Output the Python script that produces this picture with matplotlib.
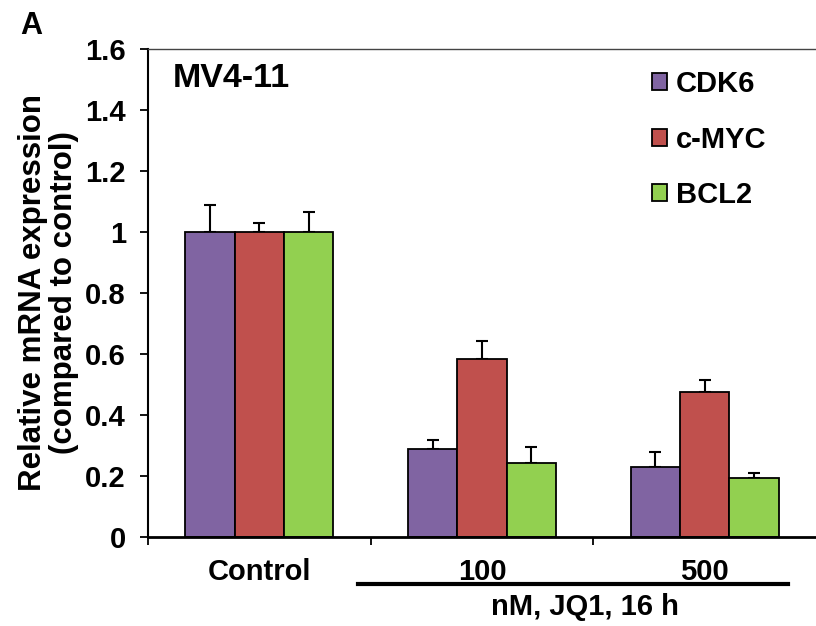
import matplotlib
matplotlib.use("Agg")
import matplotlib.pyplot as plt
import numpy as np
from matplotlib.lines import Line2D

plt.rcParams['font.family'] = ['Liberation Sans', 'DejaVu Sans']
plt.rcParams['font.weight'] = 'bold'

categories = ["Control", "100", "500"]
genes = ["CDK6", "c-MYC", "BCL2"]
cdk6 = [1.0, 0.29, 0.228]
cmyc = [1.0, 0.582, 0.474]
bcl2 = [1.0, 0.244, 0.195]
cdk6_err = [0.09, 0.027, 0.05]
cmyc_err = [0.03, 0.062, 0.04]
bcl2_err = [0.065, 0.05, 0.015]
colors = ["#8064A2", "#C0504D", "#92D050"]

fig = plt.figure(figsize=(8.16, 6.26), dpi=100)
ax = fig.add_axes([0.1814, 0.1422, 0.8186, 0.7796])

x = np.arange(len(categories))
w = 0.222
series = [cdk6, cmyc, bcl2]
errs = [cdk6_err, cmyc_err, bcl2_err]
for i, (vals, e, c, g) in enumerate(zip(series, errs, colors, genes)):
    ax.bar(x + (i - 1) * w, vals, width=w, color=c, edgecolor='black',
           linewidth=1.3, label=g, zorder=2)
    ax.errorbar(x + (i - 1) * w, vals, yerr=[np.zeros(len(vals)), e],
                fmt='none', ecolor='black', elinewidth=1.5, capsize=4.5,
                capthick=1.5, zorder=1)

FS = 21
ax.set_xlim(-0.5, 2.5)
ax.set_ylim(0, 1.6)
ax.set_yticks(np.arange(0, 1.61, 0.2))
ax.set_yticklabels(["0", "0.2", "0.4", "0.6", "0.8", "1", "1.2", "1.4", "1.6"],
                   fontsize=FS, fontweight='bold')
ax.set_xticks([-0.5, 0.5, 1.5])
ax.set_xticklabels([])
ax.tick_params(axis='y', direction='out', length=6, width=1.3, pad=10)
ax.tick_params(axis='x', direction='out', length=6, width=1.3)
ax.spines['right'].set_visible(False)
ax.spines['left'].set_linewidth(1.5)
ax.spines['bottom'].set_linewidth(2.0)
ax.spines['top'].set_linewidth(1.0)
ax.spines['top'].set_color('#444444')

for xi, lab in zip(x, categories):
    ax.text(xi, -0.115, lab, ha='center', va='center', fontsize=FS,
            fontweight='bold', transform=ax.transData, clip_on=False)

fig.add_artist(Line2D([358/816, 788/816], [1 - 584/626, 1 - 584/626],
                      color='black', linewidth=3))
fig.text(585/816, 1 - 607/626, "nM, JQ1, 16 h", ha='center', va='center',
         fontsize=FS, fontweight='bold')

ax.text(0.037, 0.94, "MV4-11", transform=ax.transAxes, fontsize=24.5,
        fontweight='bold', ha='left', va='center')

ax.set_ylabel("Relative mRNA expression\n(compared to control)", fontsize=22.5,
              fontweight='bold', labelpad=4, linespacing=1.05)

fig.text(20/816, 1 - 26/626, "A", fontsize=22, fontweight='bold',
         ha='left', va='center')

leg = ax.legend(loc='upper left', bbox_to_anchor=(0.72, 1.005), frameon=False,
                fontsize=FS, handlelength=0.52, handleheight=0.52,
                handletextpad=0.3, labelspacing=0.95, borderpad=0.3)
for h in leg.legend_handles:
    h.set_linewidth(1.3)
for t in leg.get_texts():
    t.set_fontweight('bold')

fig.savefig("out.png", dpi=100)
